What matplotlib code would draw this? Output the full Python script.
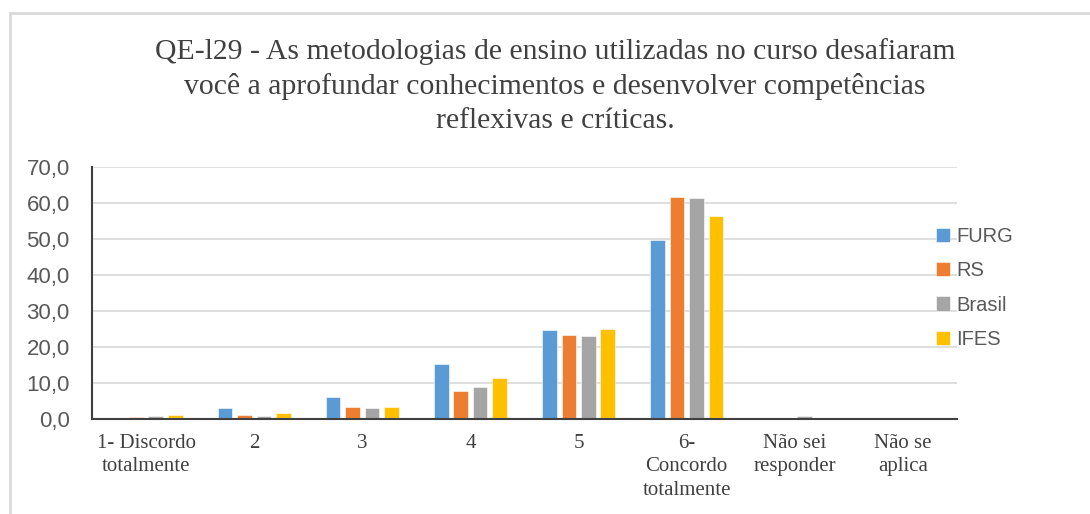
import matplotlib.pyplot as plt
import numpy as np
from matplotlib.patches import Rectangle

# categories and values (percent)
categories = ["1- Discordo\ntotalmente", "2", "3", "4", "5",
              "6-\nConcordo\ntotalmente", "Não sei\nresponder", "Não se\naplica"]
series_names = ["FURG", "RS", "Brasil", "IFES"]
furg = [0.0, 3.0, 6.2, 15.4, 24.6, 49.6, 0.0, 0.0]
rs = [0.5, 1.2, 3.3, 7.9, 23.3, 61.8, 0.4, 0.4]
brasil = [0.8, 0.8, 3.0, 9.0, 23.0, 61.4, 0.8, 0.0]
ifes = [1.2, 1.6, 3.3, 11.4, 25.0, 56.5, 0.4, 0.0]
colors = ["#5B9BD5", "#ED7D31", "#A5A5A5", "#FFC000"]

title = ("QE-l29 - As metodologias de ensino utilizadas no curso desafiaram\n"
         "você a aprofundar conhecimentos e desenvolver competências\n"
         "reflexivas e críticas.")

fig = plt.figure(figsize=(10.9, 5.14), dpi=100)
ax = fig.add_axes([92 / 1090, 95 / 514, 865 / 1090, 252 / 514])

# outer chart border
fig.patches.append(Rectangle((10 / 1090, -0.1), 1.2, (514 - 13) / 514 + 0.1,
                             transform=fig.transFigure, fill=False,
                             edgecolor="#D9D9D9", linewidth=2))

x = np.arange(len(categories))
pitch = 0.18
width = 0.135
for i, (vals, name, c) in enumerate(zip([furg, rs, brasil, ifes], series_names, colors)):
    ax.bar(x + (i - 1.5) * pitch, vals, width, color=c, label=name,
           edgecolor="white", linewidth=0.4, zorder=2)

ax.set_xlim(-0.5, len(categories) - 0.5)
ax.set_ylim(0, 70)
ax.set_yticks(np.arange(0, 71, 10))
ax.set_yticklabels([f"{v:.1f}".replace(".", ",") for v in np.arange(0, 71, 10)],
                   fontsize=16, color="#595959", family="Liberation Sans")
ax.set_xticks(x)
ax.set_xticklabels(categories, fontsize=15, color="#404040",
                   family="Liberation Serif", linespacing=1.3)
ax.tick_params(axis="both", length=0)
ax.tick_params(axis="x", pad=11)
ax.tick_params(axis="y", pad=16)
ax.grid(axis="y", color="#D9D9D9", linewidth=1.2, zorder=0)
ax.set_axisbelow(True)
for s in ["top", "right"]:
    ax.spines[s].set_visible(False)
for s in ["left", "bottom"]:
    ax.spines[s].set_color("#404040")
    ax.spines[s].set_linewidth(1.5)
    ax.spines[s].set_zorder(3)

leg = ax.legend(loc="center left", bbox_to_anchor=(0.955, 0.52), frameon=False,
                handlelength=0.7, handleheight=0.7, handletextpad=0.3,
                labelspacing=0.75, prop={"family": "Liberation Sans", "size": 14.5})
for t in leg.get_texts():
    t.set_color("#595959")

fig.text(555 / 1090, 1 - 86 / 514, title, ha="center", va="center",
         fontsize=21.4, family="Liberation Serif", color="#404040",
         linespacing=1.4)

fig.savefig("out.png", dpi=100, facecolor="white")
